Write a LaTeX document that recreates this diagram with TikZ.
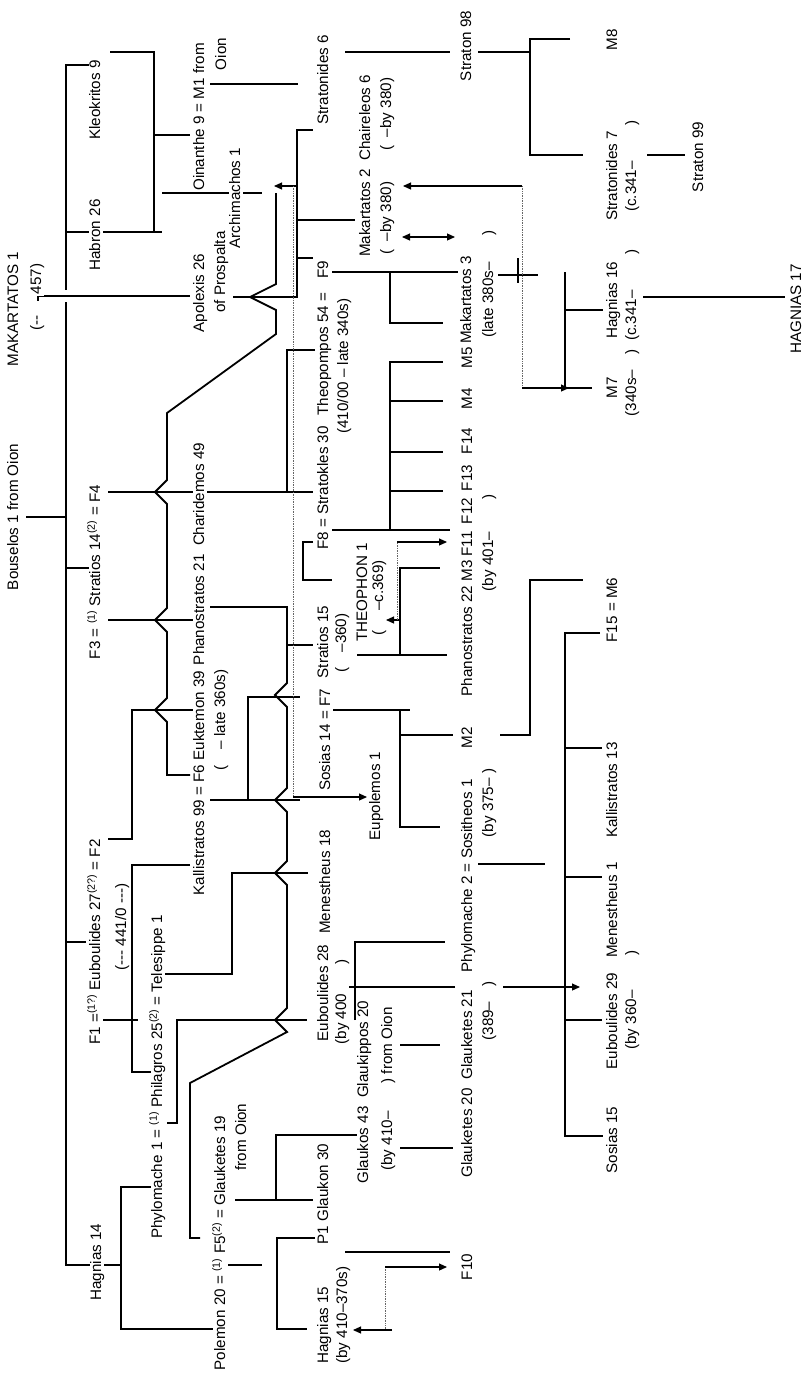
\documentclass[tikz,border=0pt]{standalone}
\usepackage{fontspec}
\setmainfont{Liberation Sans}
\usetikzlibrary{arrows.meta}
\begin{document}
\begin{tikzpicture}[x=1pt,y=-1pt,
  lbl/.style={rotate=90,anchor=center,inner xsep=1.5pt,inner ysep=0pt,fill=white,
    text height=11pt,text depth=3pt,font=\fontsize{15.2}{17}\selectfont},
  ln/.style={line width=1.8pt},
  tl/.style={line width=1.1pt},
  dl/.style={line width=0.7pt,densely dotted,black!60},
  ar/.style={line width=1.1pt,-{Triangle[length=8pt,width=7pt]}},
  artwo/.style={line width=1.1pt,{Triangle[length=8pt,width=7pt]}-{Triangle[length=8pt,width=7pt]}},
]
\useasboundingbox (0,0) rectangle (808,1377);
% ---------- connectors ----------
% main trunk
\draw[ln] (92,65) -- (66,65) -- (66,290);
\draw[ln] (66,302) -- (66,1265) -- (121,1265);
\draw[ln] (66,232) -- (162,232);
\draw[ln] (26,517) -- (66,517);
\draw[ln] (66,568) -- (90,568);
\draw[ln] (66,942) -- (86,942);
% Kleokritos / Habron children
\draw[ln] (110,52) -- (154,52) -- (154,232);
\draw[ln] (154,135) -- (190,135);
% Makartatos 1 = Apolexis 26
\draw[ln] (38,291) -- (38,301);
\draw[ln] (38,296) -- (190,296);
\draw[ln] (233,297) -- (297,297) -- (297,130) -- (313,130);
\draw[ln] (297,220) -- (355,220);
\draw[ln] (297,258) -- (313,258);
\draw[ar] (297,186) -- (274,186);
% Oinanthe = M1 -> Stratonides 6 -> Straton 98
\draw[ln] (210,84) -- (298,84);
\draw[ln] (345,52) -- (450,52);
\draw[ln] (478,52) -- (530,52);
\draw[ln] (570,39) -- (530,39) -- (530,155) -- (583,155);
\draw[ln] (647,155) -- (685,155);
% Archimachos line, descending with hops
\draw[ln] (162,193) -- (262,193);
\draw[ln] (276,193) -- (276,284) -- (250,297) -- (276,310) -- (276,334)
  -- (167,413) -- (167,480) -- (155,492) -- (167,504) -- (167,608) -- (155,620)
  -- (167,632) -- (167,698) -- (155,710) -- (167,722) -- (167,775) -- (190,775);
% Stratios 14 = F4 children
\draw[ln] (108,492) -- (313,492);
\draw[ln] (287,492) -- (287,350) -- (315,350);
% Stratios 14 = F3 children
\draw[ln] (108,620) -- (197,620);
\draw[ln] (210,607) -- (287,607) -- (287,683) -- (275,695) -- (287,707) -- (287,788) -- (275,800)
  -- (287,812) -- (287,861) -- (275,873) -- (287,885) -- (287,1008) -- (275,1020)
  -- (287,1032) -- (190,1083) -- (190,1238) -- (200,1238);
\draw[ln] (287,645) -- (313,645);
% Euboulides 27 = F2 -> Euktemon
\draw[ln] (108,839) -- (132,839) -- (132,710) -- (197,710);
% F1 children
\draw[ln] (100,1020) -- (138,1020);
\draw[ln] (190,865) -- (132,865) -- (132,1072) -- (152,1072);
% Kallistratos 99 = F6 children
\draw[ln] (210,800) -- (248,800) -- (248,697) -- (300,697);
\draw[ln] (248,800) -- (300,800);
% Philagros = Telesippe -> Menestheus 18
\draw[ln] (165,974) -- (232,974) -- (232,873) -- (308,873);
% Phylomache 1 = Philagros -> Euboulides 28
\draw[ln] (167,1123) -- (177,1123) -- (177,1020) -- (307,1020);
% Hagnias 14 children
\draw[ln] (152,1187) -- (121,1187) -- (121,1329) -- (213,1329);
% Polemon = F5 children
\draw[ln] (227,1265) -- (262,1265);
\draw[ln] (315,1238) -- (277,1238) -- (277,1329) -- (307,1329);
% F5 = Glauketes 19 children
\draw[ln] (235,1200) -- (313,1200);
\draw[ln] (276,1200) -- (276,1135) -- (358,1135);
% P1 -> F10
\draw[ln] (345,1252) -- (450,1252);
\draw[dl] (385,1267) -- (385,1330);
\draw[ar] (385,1267) -- (447,1267);
\draw[ar] (392,1330) -- (353,1330);
% Glaukos 43 -> Glauketes 20 ; Glaukippos 20 -> Glauketes 21
\draw[ln] (400,1148) -- (453,1148);
\draw[ln] (400,1045) -- (440,1045);
\draw[ln] (355,1020) -- (355,942) -- (445,942);
\draw[ar] (455,987) -- (338,987);
\draw[ar] (503,987) -- (580,987);
% Sosias 14 = F7 children
\draw[ln] (332,710) -- (410,710);
\draw[ln] (400,710) -- (400,827) -- (440,827);
\draw[ln] (400,735) -- (453,735);
\draw[ln] (500,735) -- (530,735) -- (530,580) -- (583,580);
% Phylomache 2 = Sositheos 1 children
\draw[ln] (478,864) -- (545,864);
\draw[ln] (600,633) -- (565,633) -- (565,1136) -- (603,1136);
\draw[tl] (565,748) -- (602,748);
\draw[tl] (565,877) -- (602,877);
\draw[ln] (565,1020) -- (602,1020);
% Stratios 15 children
\draw[ln] (357,655) -- (447,655);
\draw[ln] (400,655) -- (400,568) -- (440,568);
\draw[ar] (400,620) -- (386,620);
\draw[dl] (397,620) -- (397,542);
\draw[ar] (397,542) -- (447,542);
% F8 bracket
\draw[ln] (313,542) -- (303,542) -- (303,580) -- (332,580);
% F8 = Stratokles 30 children
\draw[ln] (332,530) -- (450,530);
\draw[ln] (390,530) -- (390,362) -- (443,362);
\draw[ln] (390,401) -- (443,401);
\draw[ln] (390,452) -- (443,452);
\draw[ln] (390,491) -- (443,491);
% Theopompos 54 = F9 children
\draw[ln] (332,272) -- (458,272);
\draw[ln] (390,272) -- (390,323) -- (443,323);
% Makartatos 3 children
\draw[ln] (498,275) -- (538,275);
\draw[ln] (518,258) -- (518,283);
\draw[ln] (565,272) -- (565,388) -- (592,388);
\draw[ln] (565,310) -- (603,310);
\draw[ln] (643,297) -- (785,297);
% adoption arrows
\draw[ar] (522,186) -- (403,186);
\draw[dl] (522,186) -- (522,388);
\draw[ar] (522,388) -- (569,388);
\draw[artwo] (402,237) -- (455,237);
\draw[dl] (293,186) -- (293,797);
\draw[ar] (293,797) -- (367,797);
% ---------- labels ----------
\node[lbl] (makartatos1) at (14,309) {MAKARTATOS 1};
\node[lbl] (mk1a) at (37,323) {(-{}-};
\node[lbl] (mk1b) at (37,279) {457)};
\node[lbl] (bouselos) at (14,517) {Bouselos 1 from Oion};
\node[lbl] (kleokritos) at (96,100) {Kleokritos 9};
\node[lbl] (habron) at (96,235) {Habron 26};
\node[lbl] (stratios14) at (96,572) {F3 = \textsuperscript{(1)} Stratios 14\textsuperscript{(2)} = F4};
\node[lbl] (euboulides27) at (96,942) {F1 =\textsuperscript{(1?)} Euboulides 27\textsuperscript{(2?)} = F2};
\node[lbl] (eub27d) at (122,927) {(-{}-{}- 441/0 -{}-{}-)};
\node[lbl] (hagnias14) at (97,1262) {Hagnias 14};
\node[lbl] (philagros) at (158,1077) {Phylomache 1 = \textsuperscript{(1)} Philagros 25\textsuperscript{(2)} = Telesippe 1};
\node[lbl] (oinanthe) at (200,117) {Oinanthe 9 = M1 from};
\node[lbl] (oion) at (222,54) {Oion};
\node[lbl] (apolexis) at (200,293) {Apolexis 26};
\node[lbl] (prospalta) at (221,272) {of Prospalta};
\node[lbl] (archimachos) at (236,198) {Archimachos 1};
\node[lbl] (charidemos) at (200,554) {Phanostratos 21\ \ Charidemos 49};
\node[lbl] (kallistratos99) at (200,783) {Kallistratos 99 = F6 Euktemon 39};
\node[lbl] (euktd) at (221,720) {(\hspace{16pt}– late 360s)};
\node[lbl] (polemon) at (221,1243) {Polemon 20 = \textsuperscript{(1)} F5\textsuperscript{(2)} = Glauketes 19};
\node[lbl] (glk19) at (242,1137) {from Oion};
\node[lbl] (stratonides6) at (324,80) {Stratonides 6};
\node[lbl] (f9) at (324,270) {F9};
\node[lbl] (theopompos) at (324,354) {Theopompos 54 =};
\node[lbl] (stratokles) at (324,488) {F8 = Stratokles 30};
\node[lbl] (theopd) at (344,366) {(410/00 – late 340s)};
\node[lbl] (stratios15) at (324,642) {Stratios 15};
\node[lbl] (str15d) at (342,643) {(\hspace{15pt}–360)};
\node[lbl] (sosias14) at (326,740) {Sosias 14 = F7};
\node[lbl] (menestheus18) at (326,882) {Menestheus 18};
\node[lbl] (euboulides28) at (324,993) {Euboulides 28};
\node[lbl] (eub28d) at (342,1002) {(by 400\hspace{29pt})};
\node[lbl] (glaukon) at (324,1194) {P1 Glaukon 30};
\node[lbl] (hagnias15) at (324,1325) {Hagnias 15};
\node[lbl] (hag15d) at (343,1315) {(by 410–370s)};
\node[lbl] (makartatos2) at (366,166) {Makartatos 2\ \ Chaireleos 6};
\node[lbl] (mk2d) at (387,218) {(\hspace{8pt}–by 380)};
\node[lbl] (chd) at (387,114) {(\hspace{8pt}–by 380)};
\node[lbl] (theophon) at (363,592) {THEOPHON 1};
\node[lbl] (theophond) at (379,598) {(\hspace{20pt}–c.369)};
\node[lbl] (eupolemos) at (376,796) {Eupolemos 1};
\node[lbl] (glaukos) at (364,1092) {Glaukos 43\ \ Glaukippos 20};
\node[lbl] (glaukosd) at (388,1089) {(by 410–\hspace{28pt}) from Oion};
\node[lbl] (straton98) at (467,46) {Straton 98};
\node[lbl] (makartatos3) at (467,300) {Makartatos 3};
\node[lbl] (mk3d) at (489,284) {(late 380s–\hspace{27pt})};
\node[lbl] (m5) at (468,358) {M5};
\node[lbl] (m4) at (468,399) {M4};
\node[lbl] (f14) at (468,441) {F14};
\node[lbl] (f13) at (468,478) {F13};
\node[lbl] (f12) at (468,511) {F12};
\node[lbl] (f11) at (468,544) {F11};
\node[lbl] (m3) at (468,571) {M3};
\node[lbl] (m3d) at (489,543) {(by 401–\hspace{32pt})};
\node[lbl] (phanostratos22) at (468,641) {Phanostratos 22};
\node[lbl] (m2) at (468,738) {M2};
\node[lbl] (phylomache2) at (468,876) {Phylomache 2 = Sositheos 1};
\node[lbl] (sosd) at (489,803) {(by 375– )};
\node[lbl] (glauketes) at (468,1084) {Glauketes 20\ \ Glauketes 21};
\node[lbl] (glk21d) at (489,1011) {(389–\hspace{15pt})};
\node[lbl] (f10) at (468,1267) {F10};
\node[lbl] (m8) at (613,40) {M8};
\node[lbl] (stratonides7) at (613,176) {Stratonides 7};
\node[lbl] (str7d) at (632,166) {(c.341–\hspace{36pt})};
\node[lbl] (hagnias16) at (613,300) {Hagnias 16};
\node[lbl] (hag16d) at (632,295) {(c.341–\hspace{36pt})};
\node[lbl] (m7) at (613,388) {M7};
\node[lbl] (m7d) at (632,383) {(340s–\hspace{15pt})};
\node[lbl] (f15) at (613,610) {F15 = M6};
\node[lbl] (kallistratos13) at (613,790) {Kallistratos 13};
\node[lbl] (menestheus1) at (613,910) {Menestheus 1};
\node[lbl] (euboulides29) at (613,1021) {Euboulides 29};
\node[lbl] (eub29d) at (632,1000) {(by 360–\hspace{35pt})};
\node[lbl] (sosias15) at (613,1140) {Sosias 15};
\node[lbl] (straton99) at (699,157) {Straton 99};
\node[lbl] (hagnias17) at (797,309) {HAGNIAS 17};
\end{tikzpicture}
\end{document}
